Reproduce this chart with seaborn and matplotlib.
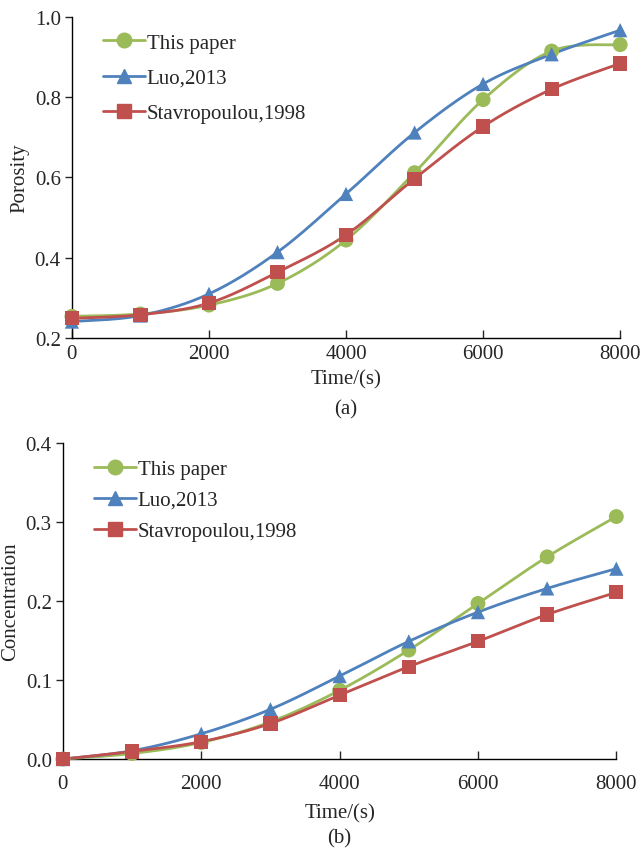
import numpy as np
import pandas as pd
import matplotlib
matplotlib.use("Agg")
import matplotlib.pyplot as plt
from matplotlib.lines import Line2D
import seaborn as sns

time = [0, 1000, 2000, 3000, 4000, 5000, 6000, 7000, 8000]
series_names = ["This paper", "Luo,2013", "Stavropoulou,1998"]

porosity_this = [0.254, 0.260, 0.282, 0.336, 0.444, 0.612, 0.794, 0.915, 0.931]
porosity_luo = [0.241, 0.256, 0.310, 0.414, 0.559, 0.712, 0.833, 0.907, 0.967]
porosity_stav = [0.249, 0.258, 0.287, 0.364, 0.457, 0.597, 0.727, 0.820, 0.884]

conc_this = [0.000, 0.007, 0.021, 0.047, 0.087, 0.138, 0.197, 0.256, 0.307]
conc_luo = [0.000, 0.0105, 0.032, 0.063, 0.105, 0.149, 0.186, 0.216, 0.241]
conc_stav = [0.000, 0.0097, 0.022, 0.045, 0.081, 0.117, 0.149, 0.183, 0.211]

colors = ["#9BBB59", "#4F81BD", "#C0504D"]
markers = ["o", "^", "s"]

sns.set_style("ticks")
plt.rcParams["font.family"] = ["Liberation Serif", "DejaVu Serif"]


def smooth(x, y, n=30):
    """Excel-like smoothed line (Catmull-Rom Bezier through the points)."""
    x = np.asarray(x, float)
    y = np.asarray(y, float)
    P = np.column_stack([x, y])
    out = [P[0]]
    for i in range(len(P) - 1):
        p0 = P[i - 1] if i > 0 else P[i]
        p1 = P[i]
        p2 = P[i + 1]
        p3 = P[i + 2] if i + 2 < len(P) else P[i + 1]
        c1 = p1 + (p2 - p0) / 6.0
        c2 = p2 - (p3 - p1) / 6.0
        t = np.linspace(0, 1, n)[1:, None]
        seg = ((1 - t) ** 3) * p1 + 3 * ((1 - t) ** 2) * t * c1 + 3 * (1 - t) * t ** 2 * c2 + t ** 3 * p2
        out.extend(seg)
    out = np.array(out)
    return out[:, 0], out[:, 1]


fig = plt.figure(figsize=(6.42, 8.54), dpi=100)
ax1 = fig.add_axes([0.112, 0.603, 0.854, 0.376])
ax2 = fig.add_axes([0.098, 0.110, 0.862, 0.370])

FS = 15
LW = 2.0


def draw(ax, ys, ylim, yticks, ylabel, sub, xpad, xlabelpad, lspacing):
    for name, y, c, m in zip(series_names, ys, colors, markers):
        sx, sy = smooth(time, y)
        sdf = pd.DataFrame({"t": sx, "v": sy})
        sns.lineplot(data=sdf, x="t", y="v", ax=ax, color=c, lw=LW, sort=False,
                     estimator=None, clip_on=False, zorder=3)
        df = pd.DataFrame({"t": time, "v": y})
        sns.scatterplot(data=df, x="t", y="v", ax=ax, color=c, marker=m,
                        s=105 if m != "o" else 115, edgecolor="none", clip_on=False, zorder=4)
    ax.set_xlim(0, 8000)
    ax.set_ylim(*ylim)
    ax.set_xticks([0, 2000, 4000, 6000, 8000])
    ax.set_yticks(yticks)
    ax.set_yticklabels(["{:.1f}".format(v) for v in yticks])
    for s in ["top", "right"]:
        ax.spines[s].set_visible(False)
    for s in ["left", "bottom"]:
        ax.spines[s].set_linewidth(1.0)
        ax.spines[s].set_color("black")
    ax.tick_params(axis="x", direction="in", length=6, width=1.0, labelsize=FS, pad=xpad)
    ax.tick_params(axis="y", direction="out", length=5, width=1.0, labelsize=FS, pad=3)
    ax.set_xlabel("Time/(s)", fontsize=FS, labelpad=xlabelpad)
    ax.set_ylabel(ylabel, fontsize=FS, labelpad=4)
    handles = [Line2D([], [], color=c, marker=m, lw=LW, markersize=10 if m != "o" else 10.5)
               for c, m in zip(colors, markers)]
    ax.legend(handles, series_names, loc="upper left", bbox_to_anchor=(0.03, 0.995), frameon=False,
              fontsize=FS, handlelength=2.0, handletextpad=0.1, labelspacing=lspacing, borderaxespad=0.3)
    ax.text(0.5, sub[1], sub[0], transform=ax.transAxes, ha="center", va="center", fontsize=FS)


draw(ax1, [porosity_this, porosity_luo, porosity_stav], (0.2, 1.0),
     [0.2, 0.4, 0.6, 0.8, 1.0], "Porosity", ("(a)", -0.221), 4.5, 4.5, 0.75)
draw(ax2, [conc_this, conc_luo, conc_stav], (0.0, 0.4),
     [0.0, 0.1, 0.2, 0.3, 0.4], "Concentration", ("(b)", -0.25), 10.5, 7.5, 0.55)

fig.savefig("out.png", dpi=100)
